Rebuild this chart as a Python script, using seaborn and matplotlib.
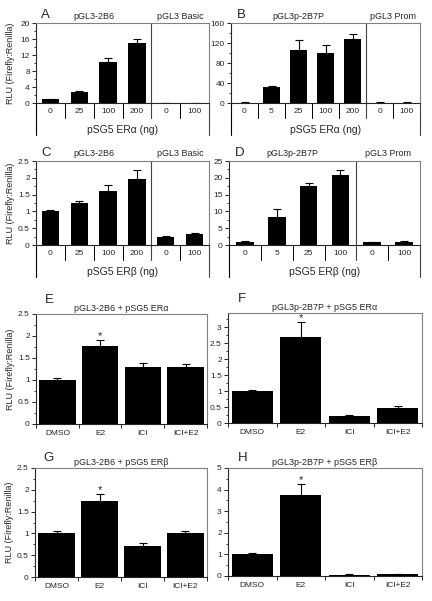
import numpy as np
import pandas as pd
import matplotlib
matplotlib.use("Agg")
import matplotlib.pyplot as plt
import matplotlib.transforms as mtransforms
from matplotlib.ticker import AutoMinorLocator, FuncFormatter, MultipleLocator
import seaborn as sns

# data
a_doses = ["0", "25", "100", "200", "0", "100"]
a_vals = [1.0, 2.8, 10.3, 15.0, 0.1, 0.1]
a_err = [0.08, 0.3, 0.85, 1.0, 0.02, 0.02]
a_groups = ["pGL3-2B6", "pGL3 Basic"]

b_doses = ["0", "5", "25", "100", "200", "0", "100"]
b_vals = [1.0, 33, 107, 101, 128, 1.0, 1.0]
b_err = [0.3, 2, 19, 16, 11, 0.3, 0.3]
b_groups = ["pGL3p-2B7P", "pGL3 Prom"]

c_doses = ["0", "25", "100", "200", "0", "100"]
c_vals = [1.0, 1.25, 1.62, 1.95, 0.25, 0.32]
c_err = [0.04, 0.07, 0.18, 0.28, 0.02, 0.05]
c_groups = ["pGL3-2B6", "pGL3 Basic"]

d_doses = ["0", "5", "25", "100", "0", "100"]
d_vals = [1.0, 8.3, 17.6, 20.9, 0.9, 1.0]
d_err = [0.05, 2.3, 0.8, 1.4, 0.05, 0.15]
d_groups = ["pGL3p-2B7P", "pGL3 Prom"]

treatments = ["DMSO", "E2", "ICI", "ICI+E2"]
e_vals = [1.0, 1.78, 1.29, 1.30]
e_err = [0.04, 0.14, 0.09, 0.06]
f_vals = [1.0, 2.70, 0.22, 0.47]
f_err = [0.04, 0.48, 0.02, 0.07]
g_vals = [1.0, 1.75, 0.71, 1.02]
g_err = [0.06, 0.15, 0.06, 0.03]
h_vals = [1.02, 3.76, 0.06, 0.09]
h_err = [0.05, 0.52, 0.03, 0.02]

sns.set_style("ticks")
plt.rcParams["font.family"] = ["Liberation Sans", "DejaVu Sans"]

W, H = 432, 601
fig = plt.figure(figsize=(W / 100, H / 100), dpi=100)

GREY = "#808080"
YLAB = "RLU (Firefly:Renilla)"
fmt = FuncFormatter(lambda v, p: "%g" % v)


def px_axes(x0, y0, x1, y1):
    return fig.add_axes([x0 / W, 1 - y1 / H, (x1 - x0) / W, (y1 - y0) / H])


def bars(ax, vals, err, width):
    df = pd.DataFrame({"pos": range(len(vals)), "val": vals})
    sns.barplot(data=df, x="pos", y="val", color="black", saturation=1,
                width=width, errorbar=None, linewidth=0, ax=ax)
    ax.errorbar(df["pos"], df["val"], yerr=[np.zeros(len(vals)), err], fmt="none",
                ecolor="black", elinewidth=0.8, capsize=3, capthick=0.8)


def style_y(ax, ymax, step, top_label=None):
    ax.set_ylim(0, ymax)
    ax.yaxis.set_major_locator(MultipleLocator(step))
    ax.yaxis.set_minor_locator(AutoMinorLocator(2))
    ax.yaxis.set_major_formatter(fmt)
    ax.tick_params(axis="y", which="major", length=3, width=0.7, labelsize=6, pad=1.5)
    ax.tick_params(axis="y", which="minor", length=1.5, width=0.6)
    if top_label is not None:
        ax.set_yticks(np.arange(0, top_label + step / 2, step))
        ax.set_ylim(0, ymax)
    ax.set_ylabel("")
    ax.spines["left"].set_linewidth(0.8)
    ax.spines["bottom"].set_linewidth(0.8)
    for s in ["top", "right"]:
        ax.spines[s].set_visible(True)
        ax.spines[s].set_color(GREY)
        ax.spines[s].set_linewidth(0.8)


def dose_panel(rect, letter, doses, vals, err, groups, split, ymax, step, xlabel,
               width, ylab):
    ax = px_axes(*rect)
    bars(ax, vals, err, width)
    n = len(doses)
    ax.set_xlim(-0.5, n - 0.5)
    style_y(ax, ymax, step)
    ax.set_xticks(range(n), doses)
    ax.tick_params(axis="x", length=0, labelsize=6, pad=3.5)
    ax.set_xlabel(xlabel, fontsize=7.5, labelpad=7)
    trans = mtransforms.blended_transform_factory(ax.transData, ax.transAxes)
    hgt = rect[3] - rect[1]
    short = -15 / hgt
    deep = -32 / hgt
    for i in range(1, n):
        if i == split:
            continue
        ax.plot([i - 0.5, i - 0.5], [0, short], color="black", lw=0.7,
                transform=trans, clip_on=False)
    ax.plot([split - 0.5, split - 0.5], [1, short], color="#444444", lw=0.8,
            transform=trans, clip_on=False)
    ax.plot([-0.5, -0.5], [0, deep], color="black", lw=0.8, transform=trans, clip_on=False)
    ax.plot([n - 0.5, n - 0.5], [0, deep], color="#444444", lw=0.8,
            transform=trans, clip_on=False)
    ax.text((split - 1) / 2, 1.03, groups[0], transform=trans, ha="center",
            va="bottom", fontsize=6.5)
    ax.text((split + n - 1) / 2, 1.03, groups[1], transform=trans, ha="center",
            va="bottom", fontsize=6.5)
    ax.text(0.03, 1.02, letter, transform=ax.transAxes, ha="left", va="bottom",
            fontsize=9.5)
    if ylab:
        ax.set_ylabel(YLAB, fontsize=6.5)
        ax.yaxis.set_label_coords(-21 / (rect[2] - rect[0]), 0.5)
    return ax


def treat_panel(rect, letter, title, vals, err, ymax, step, ylab, top_label=None,
                letter_y=1.07):
    ax = px_axes(*rect)
    bars(ax, vals, err, 0.85)
    n = len(treatments)
    ax.set_xlim(-0.5, n - 0.5)
    style_y(ax, ymax, step, top_label)
    ax.set_xticks(range(n), treatments)
    ax.set_xticks(np.arange(-0.5, n, 1.0), minor=True)
    ax.tick_params(axis="x", which="major", length=0, labelsize=6, pad=4.5)
    ax.tick_params(axis="x", which="minor", length=3, width=0.7, direction="out")
    ax.set_xlabel("")
    ax.set_title(title, fontsize=6.5, pad=2)
    ax.text(0.05, letter_y, letter, transform=ax.transAxes, ha="left", va="bottom",
            fontsize=9.5)
    ax.annotate("*", xy=(1, vals[1] + err[1]), xytext=(0, 0.5), textcoords="offset points",
                ha="center", va="baseline", fontsize=8)
    if ylab:
        ax.set_ylabel(YLAB, fontsize=6.5)
        ax.yaxis.set_label_coords(-21 / (rect[2] - rect[0]), 0.5)
    return ax


dose_panel((36, 23, 209, 103), "A", a_doses, a_vals, a_err, a_groups, 4, 20, 4,
           "pSG5 ERα (ng)", 0.6, True)
dose_panel((231, 23, 420, 103), "B", b_doses, b_vals, b_err, b_groups, 5, 160, 40,
           "pSG5 ERα (ng)", 0.62, False)
dose_panel((36, 161, 209, 245), "C", c_doses, c_vals, c_err, c_groups, 4, 2.5, 0.5,
           "pSG5 ERβ (ng)", 0.6, True)
dose_panel((229, 161, 420, 245), "D", d_doses, d_vals, d_err, d_groups, 4, 25, 5,
           "pSG5 ERβ (ng)", 0.55, False)

treat_panel((36, 314, 207, 424), "E", "pGL3-2B6 + pSG5 ERα", e_vals, e_err, 2.5, 0.5, True)
treat_panel((228, 313, 422, 423), "F", "pGL3p-2B7P + pSG5 ERα", f_vals, f_err, 3.45, 0.5,
            False, top_label=3)
treat_panel((35, 468, 207, 577), "G", "pGL3-2B6 + pSG5 ERβ", g_vals, g_err, 2.5, 0.5, True,
            letter_y=1.04)
treat_panel((228, 468, 422, 576), "H", "pGL3p-2B7P + pSG5 ERβ", h_vals, h_err, 5, 1, False,
            letter_y=1.04)

fig.savefig("out.png", dpi=100, facecolor="white")
